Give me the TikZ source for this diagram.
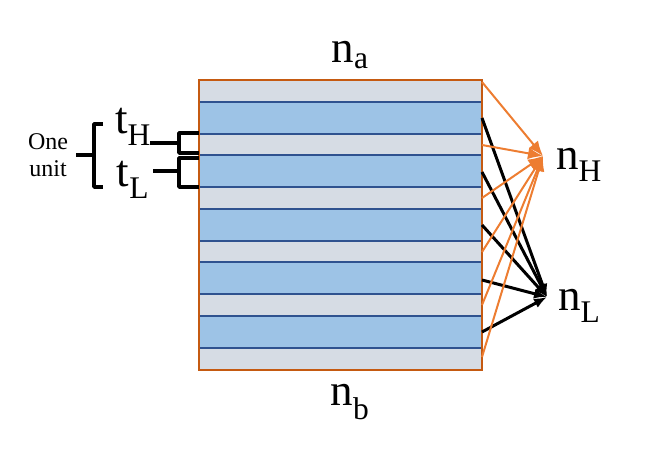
\documentclass[tikz,border=0pt]{standalone}
\usepackage{fontspec}
\setmainfont{Liberation Serif}
\usetikzlibrary{arrows.meta}
\definecolor{lgray}{RGB}{214,220,228}
\definecolor{lblue}{RGB}{157,195,230}
\definecolor{dblue}{RGB}{47,82,143}
\definecolor{brown}{RGB}{197,90,17}
\definecolor{orng}{RGB}{237,125,49}
\begin{document}
\begin{tikzpicture}[x=1pt,y=-1pt,
    graylayer/.style = {fill=lgray, draw=none},
    bluelayer/.style = {fill=lblue, draw=dblue, line width=1.8pt},
    bigtext/.style = {font=\fontsize{45}{48}\selectfont, inner sep=0pt},
    toH/.style = {orng, line width=2pt, -{Latex[length=15pt,width=12pt]}},
    toL/.style = {black, line width=3pt, -{Latex[length=13pt,width=10pt]}},
    brk/.style = {line width=3.4pt, line join=round}]
  \useasboundingbox (0,0) rectangle (656,452);
  % stack of layers
  \fill[lgray] (199,80) rectangle (482,370);
  \foreach \y in {102,155,209,262,316}
    \draw[bluelayer] (199,\y) rectangle (482,\y+32);
  \draw[brown, line width=1.8pt] (199,80) rectangle (482,370);
  % targets
  \coordinate (nH) at (543,156);
  \coordinate (nL) at (547,297);
  \node[bigtext] (na) at (350,55) {n\textsubscript{a}};
  \node[bigtext] (nb) at (350,402) {n\textsubscript{b}};
  \node[bigtext, anchor=west] (lH) at (556,165) {n\textsubscript{H}};
  \node[bigtext, anchor=west] (lL) at (558,306) {n\textsubscript{L}};
  % connections
  \foreach \y [count=\i] in {82,145,198,252,305,357}
    \coordinate (g\i) at (482,\y);
  \foreach \y [count=\i] in {118,172,225,280,332}
    \coordinate (b\i) at (482,\y);
  \foreach \i in {1,...,5} \draw[toL] (b\i) -- (nL);
  \foreach \i in {1,...,6} \draw[toH] (g\i) -- (nH);
  % unit brackets
  \node[bigtext] (tH) at (133,127) {t\textsubscript{H}};
  \node[bigtext] (tL) at (133,180) {t\textsubscript{L}};
  \node[font=\fontsize{24}{27}\selectfont, align=center, inner sep=0pt] (unit) at (48,155) {One\\unit};
  \draw[brk] (199,133) -- (179,133) -- (179,153) -- (199,153);
  \draw[brk] (150,143) -- (179,143);
  \draw[brk] (199,158) -- (179,158) -- (179,187) -- (199,187);
  \draw[brk] (153,171) -- (179,171);
  \draw[brk] (103,124) -- (94,124) -- (94,187) -- (103,187);
  \draw[brk] (76,155) -- (94,155);
\end{tikzpicture}
\end{document}
